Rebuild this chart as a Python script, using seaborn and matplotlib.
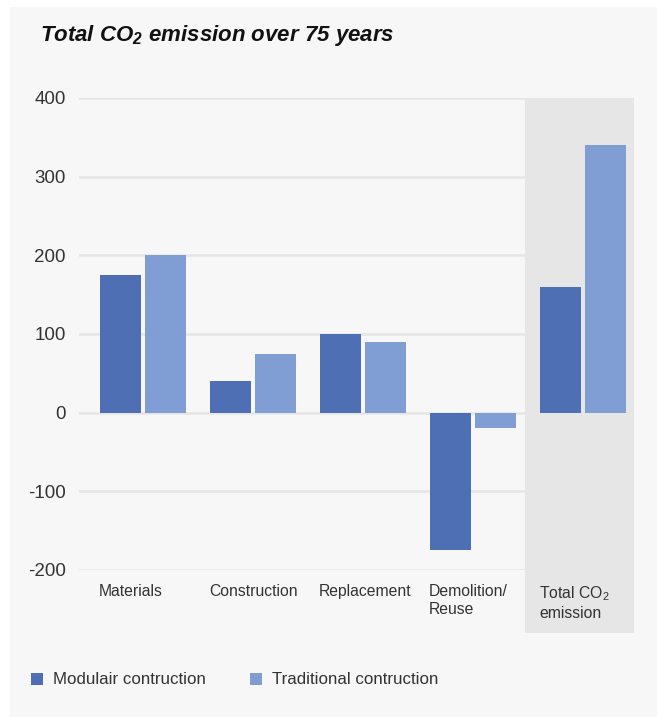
import pandas as pd
import matplotlib
matplotlib.use("Agg")
import matplotlib.pyplot as plt
from matplotlib.patches import Rectangle
from matplotlib.transforms import ScaledTranslation
import seaborn as sns

# ---- data -----------------------------------------------------------------
categories = ["Materials", "Construction", "Replacement", "Demolition/\nReuse",
              "Total CO$_2$\nemission"]
modulair = [175, 40, 100, -175, 160]
traditional = [200, 75, 90, -20, 340]
series_names = ["Modulair contruction", "Traditional contruction"]
y_ticks = [-200, -100, 0, 100, 200, 300, 400]

df = pd.DataFrame({
    "category": categories * 2,
    "value": modulair + traditional,
    "series": [series_names[0]] * len(categories) + [series_names[1]] * len(categories),
})

# ---- style ----------------------------------------------------------------
sns.set_style("white")
plt.rcParams["font.family"] = ["Liberation Sans", "DejaVu Sans"]
plt.rcParams["mathtext.fontset"] = "custom"
plt.rcParams["mathtext.rm"] = "Liberation Sans"
plt.rcParams["mathtext.it"] = "Liberation Sans:italic"
plt.rcParams["mathtext.bf"] = "Liberation Sans:bold:italic"

W, H = 657, 718
fig = plt.figure(figsize=(W / 100, H / 100), dpi=100, facecolor="white")

def px(x0, y0, x1, y1):
    # pixel box (top-left origin) -> figure fraction rect
    return (x0 / W, 1 - y1 / H, (x1 - x0) / W, (y1 - y0) / H)

# panel background
bg = px(10, 7, W, 717)
fig.patches.append(Rectangle(bg[:2], bg[2], bg[3], transform=fig.transFigure,
                             facecolor="#f7f7f7", edgecolor="none", zorder=-3))

ax = fig.add_axes(px(79, 98, 634, 570))
ax.set_facecolor("none")

# highlight behind the "total" group
hl = px(525, 98, 634, 633)
fig.patches.append(Rectangle(hl[:2], hl[2], hl[3], transform=fig.transFigure,
                             facecolor="#e6e6e6", edgecolor="none", zorder=-1))

palette = ["#4f6fb5", "#819ed4"]
sns.barplot(data=df, x="category", y="value", hue="series", palette=palette,
            width=0.82, gap=0.089, saturation=1, linewidth=0, ax=ax, legend=True)

for t in y_ticks:
    ax.axhline(t, color="#e6e6e6", lw=1.9, zorder=0)

ax.set_xlim(-0.583, 4.465)
ax.set_ylim(-200, 400)
ax.set_yticks(y_ticks)
ax.set_yticklabels([str(t) for t in y_ticks], fontsize=13.5, color="#333333")
ax.tick_params(axis="y", length=0, pad=9.4)
ax.tick_params(axis="x", length=0, pad=10)
ax.set_xlabel("")
ax.set_ylabel("")
sns.despine(ax=ax, left=True, bottom=True)

ax.set_xticks(range(len(categories)))
ax.set_xticklabels(categories, fontsize=11.3, color="#333333", ha="left", va="top",
                   linespacing=1.3)
shift = ScaledTranslation(-44 / 100, 0, fig.dpi_scale_trans)
for lbl in ax.get_xticklabels():
    lbl.set_transform(lbl.get_transform() + shift)

# legend
handles, labels = ax.get_legend_handles_labels()
ax.get_legend().remove()
fig.legend(handles, labels, loc="center left", bbox_to_anchor=(16 / W, 1 - 680 / H),
           ncol=2, frameon=False, fontsize=12.2, handlelength=0.7, handleheight=0.7,
           handletextpad=0.6, columnspacing=2.6, labelcolor="#333333")

fig.text(40 / W, 1 - 36 / H, r"$\mathbf{Total\ CO_2\ emission\ over\ 75\ years}$",
         fontsize=16, va="center", ha="left", color="#111111")

fig.savefig("out.png", dpi=100, facecolor="white")
